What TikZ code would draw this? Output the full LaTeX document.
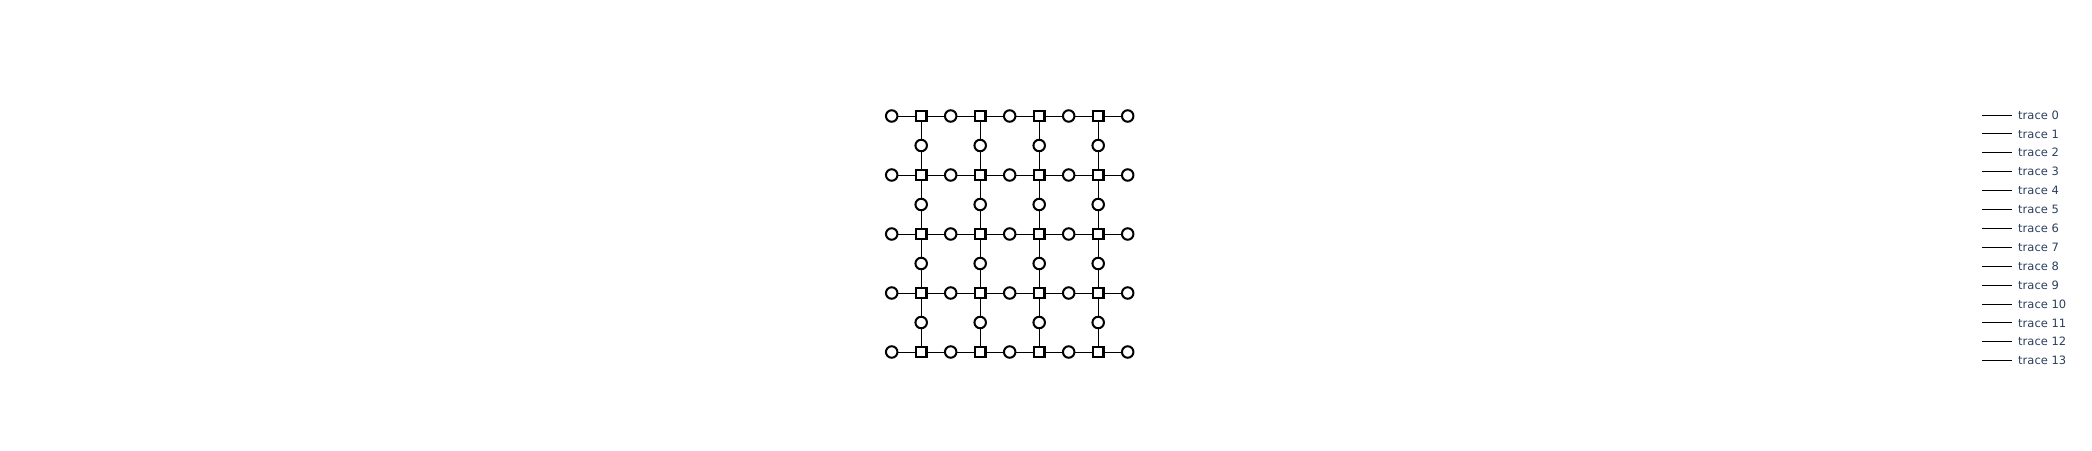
\documentclass[tikz,border=0pt]{standalone}
\usepackage{fontspec}
\setmainfont{DejaVu Sans}
\definecolor{legendtext}{HTML}{2A3F5F}

\tikzset{
  qubit/.style={circle,draw,line width=2pt,fill=white,minimum size=11.5pt,inner sep=0pt},
  check/.style={rectangle,draw,line width=2.2pt,fill=white,minimum size=10.5pt,inner sep=0pt},
  link/.style={line width=1pt},
  legendline/.style={line width=1pt},
  legendlabel/.style={text=legendtext,font=\fontsize{11.5}{13}\selectfont,anchor=west,inner sep=0pt}
}

\begin{document}
\begin{tikzpicture}[x=1pt,y=-1pt]
    \useasboundingbox (0,0) rectangle (2092,450);

    % Lattice nodes
    \foreach \i in {0,...,4} {
        \foreach \j in {0,...,4}
            \node[qubit] (h-\i-\j) at (891.7+59*\j,116+59*\i) {};
        \foreach \j in {0,...,3}
            \node[check] (s-\i-\j) at (921.2+59*\j,116+59*\i) {};
    }
    \foreach \i in {0,...,3}
        \foreach \j in {0,...,3}
            \node[qubit] (v-\i-\j) at (921.2+59*\j,145.5+59*\i) {};

    % Rows
    \foreach \i in {0,...,4}
        \foreach \j in {0,...,3} {
            \pgfmathtruncatemacro{\nj}{\j+1}
            \draw[link] (h-\i-\j) -- (s-\i-\j);
            \draw[link] (s-\i-\j) -- (h-\i-\nj);
        }

    % Columns
    \foreach \j in {0,...,3}
        \foreach \i in {0,...,3} {
            \pgfmathtruncatemacro{\ni}{\i+1}
            \draw[link] (s-\i-\j) -- (v-\i-\j);
            \draw[link] (v-\i-\j) -- (s-\ni-\j);
        }

    % Legend
    \foreach \k in {0,...,13} {
        \coordinate (key-\k-a) at (1982,115+18.9*\k);
        \coordinate (key-\k-b) at (2012,115+18.9*\k);
        \draw[legendline] (key-\k-a) -- (key-\k-b);
        \node[legendlabel] (lab-\k) at ([xshift=6pt]key-\k-b) {trace \k};
    }
\end{tikzpicture}
\end{document}
